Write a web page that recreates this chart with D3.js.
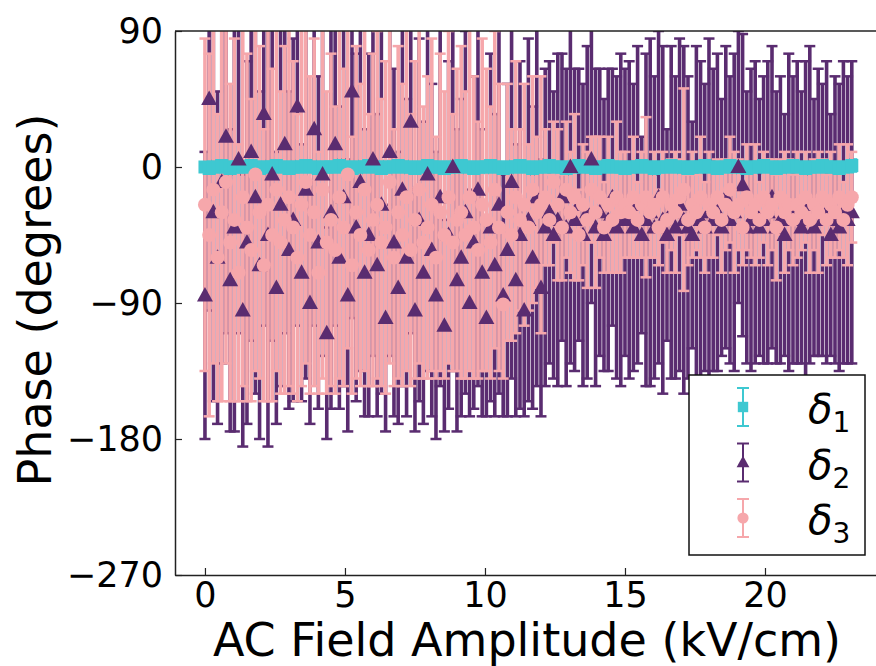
<!DOCTYPE html>
<html lang="en">
<head>
<meta charset="UTF-8">
<script src="https://cdn.jsdelivr.net/npm/d3@7"></script>
<style>
    body { margin: 0; background: #fff; }
    text { font-family: "DejaVu Sans", sans-serif; fill: #000; }
    .tick text { font-size: 35px; }
    .tick line { stroke: #222; stroke-width: 1.2; }
    .domain { stroke: #222; stroke-width: 1.5; }
    .axlabel { font-size: 46px; }
    .leg { font-size: 40px; font-style: italic; }
</style>
</head>
<body>
<svg id="chart" width="876" height="666"></svg>
<script>
// AC field amplitude (kV/cm)
var fieldX = [
    0,0.15,0.3,0.45,0.6,0.75,0.9,1.05,1.2,1.35,
    1.5,1.65,1.8,1.95,2.1,2.25,2.4,2.55,2.7,2.85,
    3,3.15,3.3,3.45,3.6,3.75,3.9,4.05,4.2,4.35,
    4.5,4.65,4.8,4.95,5.1,5.25,5.4,5.55,5.7,5.85,
    6,6.15,6.3,6.45,6.6,6.75,6.9,7.05,7.2,7.35,
    7.5,7.65,7.8,7.95,8.1,8.25,8.4,8.55,8.7,8.85,
    9,9.15,9.3,9.45,9.6,9.75,9.9,10.05,10.2,10.35,
    10.5,10.65,10.8,10.95,11.1,11.25,11.4,11.55,11.7,11.85,
    12,12.15,12.3,12.45,12.6,12.75,12.9,13.05,13.2,13.35,
    13.5,13.65,13.8,13.95,14.1,14.25,14.4,14.55,14.7,14.85,
    15,15.15,15.3,15.45,15.6,15.75,15.9,16.05,16.2,16.35,
    16.5,16.65,16.8,16.95,17.1,17.25,17.4,17.55,17.7,17.85,
    18,18.15,18.3,18.45,18.6,18.75,18.9,19.05,19.2,19.35,
    19.5,19.65,19.8,19.95,20.1,20.25,20.4,20.55,20.7,20.85,
    21,21.15,21.3,21.45,21.6,21.75,21.9,22.05,22.2,22.35,
    22.5,22.65,22.8,22.95,23.1
];

// delta 1 phase and error (deg)
var d1Val = [
    0,-1,0,0,1,0,-1,0,0,0, 0,1,0,-1,0,0,0,1,0,0, -1,0,0,0,1,0,0,-1,0,0,
    0,0,1,0,0,-1,0,0,0,1, 0,0,-1,0,0,0,1,0,0,0, -1,0,0,1,0,0,0,-1,0,0,
    0,1,0,0,-1,0,0,0,1,0, 0,-1,0,0,0,1,0,0,-1,0, 0,0,1,0,0,0,-1,0,0,1,
    0,0,0,-1,0,0,1,0,0,0, -1,0,0,0,1,0,0,-1,0,0, 0,1,0,0,0,-1,0,0,0,1,
    0,0,-1,0,0,1,0,0,0,-1, 0,0,0,1,0,0,-1,0,0,0, 1,0,0,-1,0,0,0,1,0,0,
    0,-1,0,0,1
];
var d1Err = [
    3,2,4,3,3,2,4,3,2,3, 4,3,2,3,3,4,2,3,3,2, 3,4,3,2,3,3,4,2,3,3,
    2,3,4,3,2,3,3,4,3,2, 3,3,2,4,3,3,2,3,4,3, 3,2,3,3,4,2,3,3,2,4,
    3,3,4,2,3,3,2,4,3,3, 2,3,3,4,3,2,3,3,4,2, 3,4,3,3,2,3,4,3,3,2,
    4,3,2,3,3,4,3,2,3,3, 3,2,4,3,3,2,3,4,3,3, 2,3,3,4,2,3,3,2,4,3,
    3,4,2,3,3,2,4,3,3,3, 2,3,4,3,3,2,3,3,4,2, 3,3,2,4,3,3,2,3,3,4,
    3,2,3,3,4
];

// delta 2 phase and error (deg)
var d2Val = [
    -85,45,-30,-60,-10,20,-75,-40,5,-95,-50,10,-20,-65,35,-45,-5,-80,-25,15,-55,
    -35,40,-70,-15,-90,25,-50,-5,-110,-30,15,-60,-20,-85,50,-40,-10,-70,-45,5,
    -65,-25,-100,10,-50,-80,-15,-60,30,-95,-35,-70,-5,-55,-85,-20,-105,-45,0,-75,
    -60,-30,-90,-50,-15,-70,-100,-40,-65,-25,-85,-55,-10,-75,-45,-95,-35,-60,-20,-80,
    -40,-30,-45,-35,-20,-40,0,-35,-25,-45,-30,5,-40,-30,-45,-35,-20,-40,-35,-30,
    -35,-40,-25,-45,-35,-30,-40,-20,-35,-45,-30,-40,-25,-35,-40,-45,-30,-35,-40,-30,
    -35,-30,-40,-20,-35,-30,0,-12,-40,-35,-30,-40,-35,-30,-20,-40,-35,-45,-30,-35,
    -30,-40,-35,-25,-40,-30,-35,-30,-45,-35,-40,-30,-35,-30
];
var d2Err = [
    95,140,125,110,120,130,100,135,115,90,120,125,130,115,140,140,110,90,120,125,105,
    120,145,85,125,80,130,110,120,70,130,120,100,125,90,150,115,125,95,120,130,
    100,125,75,135,115,90,130,105,140,80,120,100,130,110,95,125,70,115,135,100,
    105,120,75,110,130,95,65,115,100,125,80,110,130,90,115,70,120,100,125,85,
    105,100,95,110,95,105,130,100,90,100,110,95,105,95,90,100,85,100,110,95,
    105,95,105,65,110,115,100,110,115,70,110,100,110,115,100,75,110,105,95,115,
    100,105,85,100,95,105,90,100,90,100,100,85,95,100,100,90,95,80,105,95,
    100,90,105,105,85,95,90,100,80,95,95,100,95,100
];

// delta 3 phase and error (deg)
var d3Val = [
    -25,-45,-15,-60,-30,-10,-50,-35,-70,-20,-40,-55,-5,-30,-65,-25,-45,-15,-50,-35,-20,
    -40,-60,-25,-10,-45,-30,-70,-15,-50,-35,-55,-20,-40,-5,-65,-30,-45,-15,-55,-35,
    -25,-50,-40,-10,-60,-30,-45,-20,-55,-35,-15,-50,-40,-25,-60,-30,-45,-20,-50,-35,
    -30,-45,-20,-40,-55,-25,-35,-50,-15,-40,-91,-30,-45,-20,-35,-25,-40,-15,-30,-25,
    -20,-35,-10,-25,-40,-15,-30,-20,-45,-25,-35,-15,-30,-20,-40,-25,-35,-20,-30,-25,
    -30,-20,-35,-25,-20,-30,-25,-40,-20,-35,-25,-30,-20,-15,-35,-25,-30,-20,-40,-25,
    -30,-20,-35,-25,-15,-30,-25,-40,-20,-30,-25,-35,-20,-30,-25,-40,-20,-30,-25,-35,
    -25,-30,-20,-35,-25,-30,-20,-35,-25,-30,-20,-35,-25,-20
];
var d3Err = [
    110,120,115,95,125,120,105,120,85,125,115,100,130,110,90,130,110,120,100,115,125,
    110,95,120,120,105,115,80,125,100,110,95,120,105,115,85,110,100,120,90,110,
    115,95,110,120,85,110,100,115,90,105,115,90,100,110,80,105,95,110,85,100,
    110,95,115,100,85,110,100,90,105,95,49,85,70,90,60,80,55,75,50,85,
    45,30,40,50,35,45,40,55,30,40,45,35,50,40,30,45,35,50,40,35,
    30,40,25,35,53,30,35,25,30,35,30,40,25,67,30,35,25,40,30,35,
    30,25,35,30,35,40,30,25,35,30,40,25,30,35,30,35,25,40,30,30,
    35,25,30,35,30,40,25,30,35,30,35,25,40,30
];

var yTicks = [-270, -180, -90, 0, 90];
var xTicks = [0, 5, 10, 15, 20];
var seriesNames = ["1", "2", "3"];

var colors = {cyan: "#3ec8d1", purple: "#5a2c70", pink: "#f6a7ab"};

var svg = d3.select("#chart");
var plotL = 175, plotR = 877, plotT = 31, plotB = 575;

var x = d3.scaleLinear().domain([-1.07, 24.0]).range([plotL, plotR]);
var y = d3.scaleLinear().domain([-270, 90]).range([plotB, plotT]);

svg.append("rect").attr("width", 876).attr("height", 666).attr("fill", "#fff");

svg.append("clipPath").attr("id", "plotclip")
    .append("rect")
    .attr("x", plotL).attr("y", plotT)
    .attr("width", plotR - plotL).attr("height", plotB - plotT);

var series = [
    {vals: d1Val, errs: d1Err, color: colors.cyan, shape: "square"},
    {vals: d2Val, errs: d2Err, color: colors.purple, shape: "triangle"},
    {vals: d3Val, errs: d3Err, color: colors.pink, shape: "circle"}
];

function pts(s) {
    return fieldX.map(function(xv, i) { return {x: xv, v: s.vals[i], e: s.errs[i]}; });
}

var plot = svg.append("g").attr("clip-path", "url(#plotclip)");
var capW = 5.5;

// error bars first (matplotlib puts them under every marker)
series.forEach(function(s) {
    var g = plot.append("g").attr("stroke", s.color).attr("stroke-width", 3.6);
    var d = pts(s);
    g.selectAll(".bar").data(d).enter().append("line")
        .attr("x1", function(p) { return x(p.x); })
        .attr("x2", function(p) { return x(p.x); })
        .attr("y1", function(p) { return y(p.v + p.e); })
        .attr("y2", function(p) { return y(p.v - p.e); });
    g.selectAll(".capt").data(d).enter().append("line")
        .attr("stroke-width", 2.5)
        .attr("x1", function(p) { return x(p.x) - capW; })
        .attr("x2", function(p) { return x(p.x) + capW; })
        .attr("y1", function(p) { return y(p.v + p.e); })
        .attr("y2", function(p) { return y(p.v + p.e); });
    g.selectAll(".capb").data(d).enter().append("line")
        .attr("stroke-width", 2.5)
        .attr("x1", function(p) { return x(p.x) - capW; })
        .attr("x2", function(p) { return x(p.x) + capW; })
        .attr("y1", function(p) { return y(p.v - p.e); })
        .attr("y2", function(p) { return y(p.v - p.e); });
});

function markerPath(shape) {
    if (shape === "square") return "M-6.5,-6.5H6.5V6.5H-6.5Z";
    if (shape === "triangle") return "M0,-8.5L8,6L-8,6Z";
    return "M7,0A7,7 0 1,1 -7,0A7,7 0 1,1 7,0Z";
}

series.forEach(function(s) {
    plot.append("g").selectAll("path").data(pts(s)).enter().append("path")
        .attr("d", markerPath(s.shape))
        .attr("fill", s.color)
        .attr("transform", function(p) { return "translate(" + x(p.x) + "," + y(p.v) + ")"; });
});

// axes, ticks point inward
var xAxis = d3.axisBottom(x).tickValues(xTicks).tickSizeInner(-7).tickSizeOuter(0).tickPadding(7)
    .tickFormat(d3.format("d"));
svg.append("g").attr("transform", "translate(0," + plotB + ")").call(xAxis);

var yAxis = d3.axisLeft(y).tickValues(yTicks).tickSizeInner(-7).tickSizeOuter(0).tickPadding(12)
    .tickFormat(function(d) { return d < 0 ? "\u2212" + Math.abs(d) : d; });
svg.append("g").attr("transform", "translate(" + plotL + ",0)").call(yAxis);

svg.append("line").attr("x1", plotL).attr("x2", plotR).attr("y1", plotT).attr("y2", plotT)
    .attr("stroke", "#222").attr("stroke-width", 1.5);

svg.append("text").attr("class", "axlabel").attr("x", 527).attr("y", 656)
    .attr("text-anchor", "middle").text("AC Field Amplitude (kV/cm)");
svg.append("text").attr("class", "axlabel").attr("text-anchor", "middle")
    .attr("transform", "translate(51,300) rotate(-90)").text("Phase (degrees)");

// legend
var leg = svg.append("g");
leg.append("rect").attr("x", 689).attr("y", 375).attr("width", 176).attr("height", 180)
    .attr("fill", "#fff").attr("stroke", "#111").attr("stroke-width", 1.5);

series.forEach(function(s, i) {
    var cy = 407 + i * 55.5, cx = 743;
    var g = leg.append("g").attr("stroke", s.color).attr("stroke-width", 2);
    g.append("line").attr("x1", cx).attr("x2", cx).attr("y1", cy - 19).attr("y2", cy + 19);
    g.append("line").attr("x1", cx - 6).attr("x2", cx + 6).attr("y1", cy - 19).attr("y2", cy - 19);
    g.append("line").attr("x1", cx - 6).attr("x2", cx + 6).attr("y1", cy + 19).attr("y2", cy + 19);
    leg.append("path").attr("d", markerPath(s.shape)).attr("fill", s.color)
        .attr("transform", "translate(" + cx + "," + cy + ") scale(0.8)");
    var t = leg.append("text").attr("class", "leg").attr("x", 808).attr("y", cy + 16);
    t.append("tspan").text("\u03b4");
    t.append("tspan").attr("dy", 9).style("font-style", "normal").style("font-size", "28px").text(seriesNames[i]);
});
</script>
</body>
</html>
